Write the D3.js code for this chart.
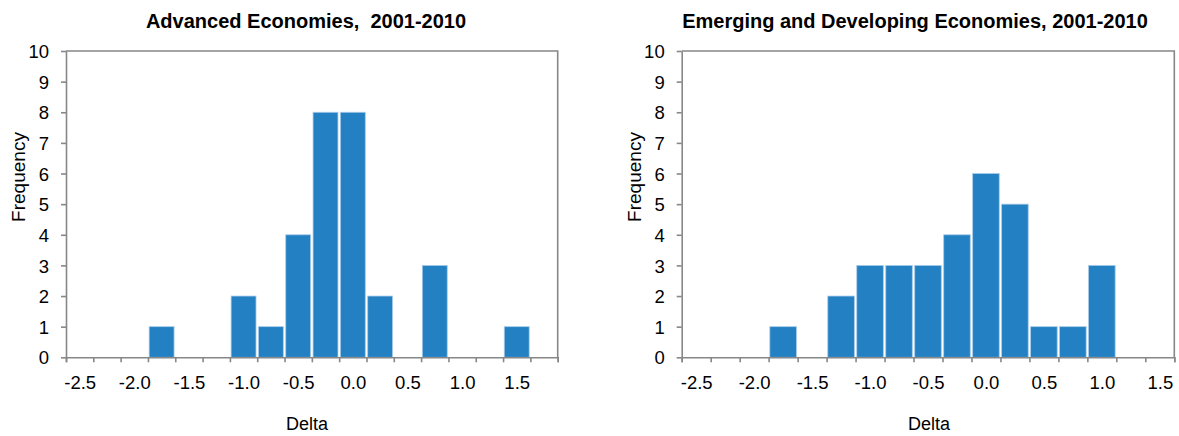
<!DOCTYPE html>
<html>
<head>
<meta charset="utf-8">
<script src="https://cdn.jsdelivr.net/npm/d3@7"></script>
<style>
  html, body { margin: 0; padding: 0; background: #fff; }
  svg { display: block; font-family: "Liberation Sans", Arial, sans-serif; }
</style>
</head>
<body>
<svg id="chart" width="1179" height="436"></svg>
<script>
// ---- Data ----
const advancedCategories = [-2.5, -2.25, -2.0, -1.75, -1.5, -1.25, -1.0, -0.75, -0.5, -0.25, 0.0, 0.25, 0.5, 0.75, 1.0, 1.25, 1.5, 1.75];
const advancedCounts     = [0, 0, 0, 1, 0, 0, 2, 1, 4, 8, 8, 2, 0, 3, 0, 0, 1, 0];

const emergingCategories = [-2.5, -2.25, -2.0, -1.75, -1.5, -1.25, -1.0, -0.75, -0.5, -0.25, 0.0, 0.25, 0.5, 0.75, 1.0, 1.25, 1.5];
const emergingCounts     = [0, 0, 0, 1, 0, 2, 3, 3, 3, 4, 6, 5, 1, 1, 3, 0, 0];

const xTickLabels = ["-2.5", "-2.0", "-1.5", "-1.0", "-0.5", "0.0", "0.5", "1.0", "1.5"];
const yTicks = [0, 1, 2, 3, 4, 5, 6, 7, 8, 9, 10];

const titles = ["Advanced Economies,\u00A0 2001-2010", "Emerging and Developing Economies, 2001-2010"];
const xTitle = "Delta";
const yTitle = "Frequency";

// ---- Layout ----
const svg = d3.select("#chart");
const BAR = "#2381c3";
const AXIS = "#878787";
const yTop = 51, yBottom = 357.3;

const panels = [
  { cats: advancedCategories, counts: advancedCounts, title: titles[0], x0: 66, x1: 557.7, titleX: 306, deltaX: 307, freqX: 25 },
  { cats: emergingCategories, counts: emergingCounts, title: titles[1], x0: 681.7, x1: 1174.3, titleX: 915, deltaX: 929, freqX: 641 }
];

panels.forEach(p => {
  const n = p.cats.length;
  const x = d3.scaleLinear().domain([0, n]).range([p.x0, p.x1]);
  const band = d3.scaleBand().domain(p.cats).range([p.x0, p.x1]).paddingInner(0);
  const y = d3.scaleLinear().domain([0, 10]).range([yBottom, yTop]);
  const g = svg.append("g");

  // bars
  g.selectAll("rect.bar")
    .data(p.cats.map((c, i) => ({ c, v: p.counts[i] })).filter(d => d.v > 0))
    .join("rect")
    .attr("class", "bar")
    .attr("x", d => band(d.c) + 1.2)
    .attr("width", band.bandwidth() - 2.4)
    .attr("y", d => y(d.v))
    .attr("height", d => y(0) - y(d.v))
    .attr("fill", BAR)
    .attr("stroke", "#a9cbe8")
    .attr("stroke-width", 0.8);

  // plot frame (top & right)
  g.append("path")
    .attr("d", `M${p.x0},${yTop}H${p.x1}V${yBottom}`)
    .attr("fill", "none").attr("stroke", AXIS).attr("stroke-width", 1.6);

  // x axis with boundary ticks
  const xAxisG = g.append("g").attr("transform", `translate(0,${yBottom})`)
    .call(d3.axisBottom(x).tickValues(d3.range(n + 1)).tickFormat("").tickSize(5).tickSizeOuter(5));
  xAxisG.select(".domain").attr("stroke", AXIS).attr("stroke-width", 1.6);
  xAxisG.selectAll(".tick line").attr("stroke", AXIS).attr("stroke-width", 1.6);

  // x labels at centres of even categories
  const labelG = g.append("g").attr("transform", `translate(0,${yBottom})`)
    .call(d3.axisBottom(x).tickValues(xTickLabels.map((_, k) => 2 * k + 0.5)).tickFormat((d, k) => xTickLabels[k]).tickSize(0));
  labelG.select(".domain").remove();
  labelG.selectAll("text").attr("y", 31.5).attr("dy", 0).attr("font-size", 18.5).attr("fill", "#000")
    .attr("font-family", "Liberation Sans, Arial, sans-serif");

  // y axis
  const yAxisG = g.append("g").attr("transform", `translate(${p.x0},0)`)
    .call(d3.axisLeft(y).tickValues(yTicks).tickSize(5).tickSizeOuter(0).tickPadding(12));
  yAxisG.select(".domain").attr("stroke", AXIS).attr("stroke-width", 1.6);
  yAxisG.selectAll(".tick line").attr("stroke", AXIS).attr("stroke-width", 1.6);
  yAxisG.selectAll("text").attr("font-size", 18.5).attr("fill", "#000")
    .attr("font-family", "Liberation Sans, Arial, sans-serif").attr("dy", "0.36em");

  // title
  g.append("text").attr("x", p.titleX).attr("y", 28).attr("text-anchor", "middle")
    .attr("font-size", 20).attr("font-weight", "bold").attr("fill", "#000").text(p.title);

  // x title
  g.append("text").attr("x", p.deltaX).attr("y", 430).attr("text-anchor", "middle")
    .attr("font-size", 18).attr("fill", "#000").text(xTitle);

  // y title
  g.append("text").attr("transform", `translate(${p.freqX},177) rotate(-90)`).attr("text-anchor", "middle")
    .attr("font-size", 19).attr("fill", "#000").text(yTitle);
});
</script>
</body>
</html>
